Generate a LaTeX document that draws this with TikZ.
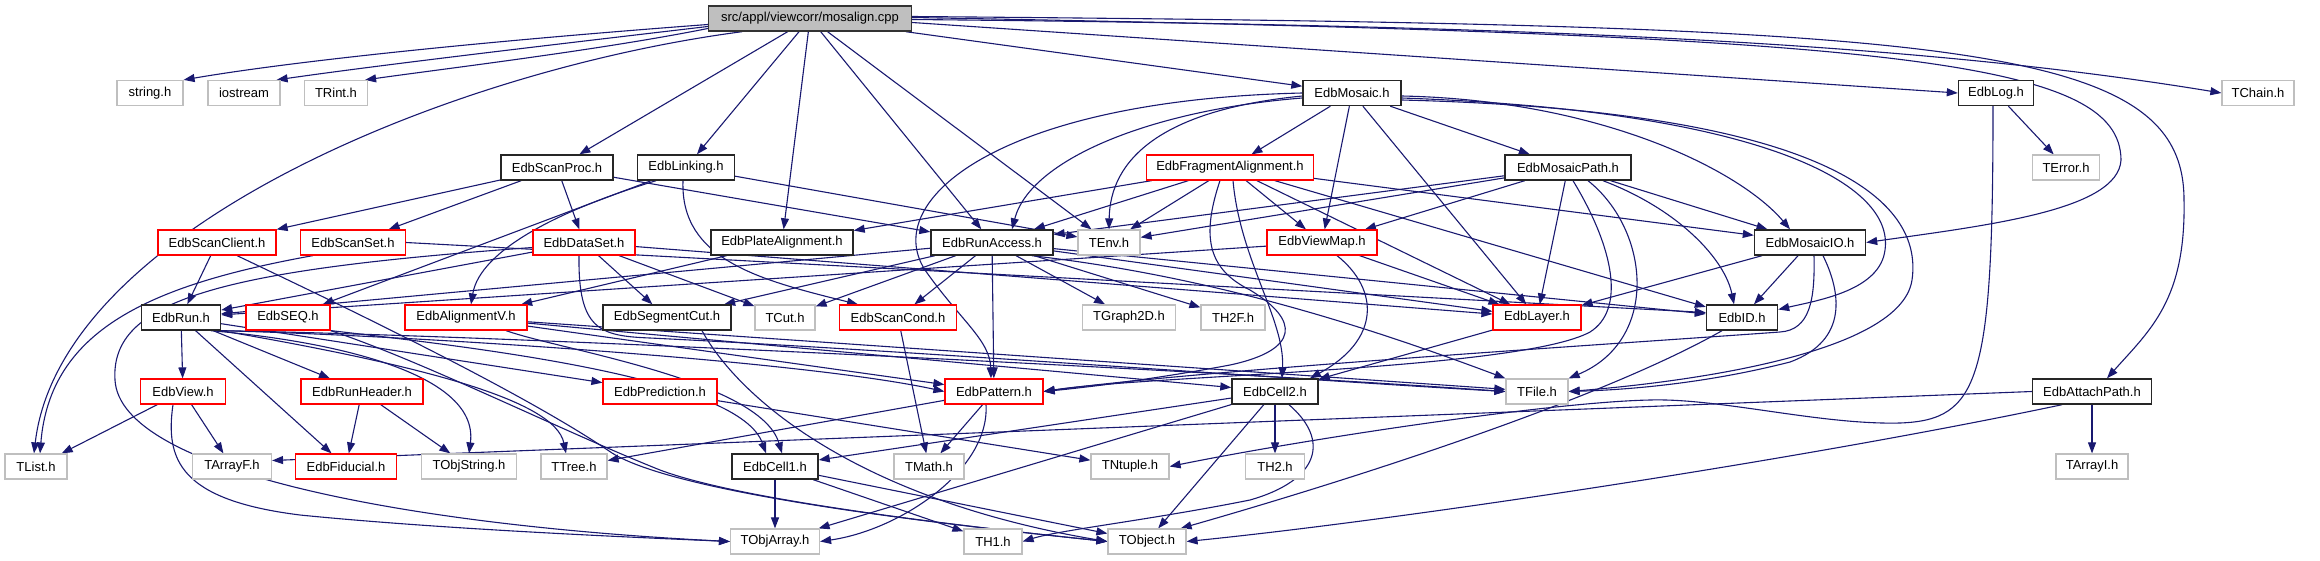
\documentclass[tikz,border=0pt]{standalone}
\usepackage{fontspec}
\setmainfont{Liberation Sans}
\usetikzlibrary{arrows.meta}
\pgfdeclarelayer{edges}
\pgfsetlayers{edges,main}
\definecolor{incblue}{HTML}{191970}
\definecolor{extgray}{HTML}{BFBFBF}
\definecolor{rootgray}{HTML}{BFBFBF}

\begin{document}
\begin{tikzpicture}[x=1pt, y=-1pt,
  every node/.style={font=\fontsize{13}{15}\selectfont, inner sep=0pt, minimum height=25pt},
  hdr/.style={draw=black!85, line width=1.4pt, fill=white},
  hdrred/.style={draw=red, line width=1.2pt, fill=white},
  hdrext/.style={draw=extgray, line width=1.2pt, fill=white},
  hdrroot/.style={draw=black!80, line width=1.4pt, fill=rootgray},
  inc/.style={draw=incblue, line width=1.1pt, -{Triangle[length=11pt,width=8pt]}}]
\useasboundingbox (0,0) rectangle (2320,560);

% row 1 and 2
\node[hdrroot, minimum width=203pt] (root) at (810,18.5) {src/appl/viewcorr/mosalign.cpp};
\node[hdrext, minimum width=66pt] (str) at (150,93) {string.h};
\node[hdrext, minimum width=72pt] (ios) at (244,93) {iostream};
\node[hdrext, minimum width=63pt] (trint) at (336,93) {TRint.h};
\node[hdr, minimum width=98pt] (mos) at (1352,93) {EdbMosaic.h};
\node[hdr, minimum width=75pt] (log) at (1996,93) {EdbLog.h};
\node[hdrext, minimum width=72pt] (tchain) at (2258,93) {TChain.h};
% row 3
\node[hdr, minimum width=112pt] (sproc) at (557,167.5) {EdbScanProc.h};
\node[hdr, minimum width=97pt] (link) at (686,167.5) {EdbLinking.h};
\node[hdrred, minimum width=167pt] (frag) at (1230,167.5) {EdbFragmentAlignment.h};
\node[hdr, minimum width=126pt] (mpath) at (1568,167.5) {EdbMosaicPath.h};
\node[hdrext, minimum width=67pt] (terr) at (2066,167.5) {TError.h};
% row 4
\node[hdrred, minimum width=118pt] (sclient) at (217,242.5) {EdbScanClient.h};
\node[hdrred, minimum width=105pt] (sset) at (353,242.5) {EdbScanSet.h};
\node[hdrred, minimum width=102pt] (dset) at (584,242.5) {EdbDataSet.h};
\node[hdr, minimum width=142pt] (palign) at (782,242.5) {EdbPlateAlignment.h};
\node[hdr, minimum width=122pt] (racc) at (992,242.5) {EdbRunAccess.h};
\node[hdrext, minimum width=62pt] (tenv) at (1109,242.5) {TEnv.h};
\node[hdrred, minimum width=110pt] (vmap) at (1322,242.5) {EdbViewMap.h};
\node[hdr, minimum width=111pt] (mio) at (1810,242.5) {EdbMosaicIO.h};
% row 5
\node[hdr, minimum width=79pt] (run) at (181,317.5) {EdbRun.h};
\node[hdrred, minimum width=84pt] (seq) at (288,317.5) {EdbSEQ.h};
\node[hdrred, minimum width=122pt] (alv) at (466,317.5) {EdbAlignmentV.h};
\node[hdr, minimum width=128pt] (scut) at (667,317.5) {EdbSegmentCut.h};
\node[hdrext, minimum width=60pt] (tcut) at (785,317.5) {TCut.h};
\node[hdrred, minimum width=117pt] (scond) at (898,317.5) {EdbScanCond.h};
\node[hdrext, minimum width=93pt] (tg2d) at (1129,317.5) {TGraph2D.h};
\node[hdrext, minimum width=64pt] (th2f) at (1233,317.5) {TH2F.h};
\node[hdrred, minimum width=88pt] (layer) at (1537,317.5) {EdbLayer.h};
\node[hdr, minimum width=71pt] (eid) at (1742,317.5) {EdbID.h};
% row 6
\node[hdrred, minimum width=85pt] (view) at (183,391.5) {EdbView.h};
\node[hdrred, minimum width=122pt] (rhead) at (362,391.5) {EdbRunHeader.h};
\node[hdrred, minimum width=114pt] (pred) at (660,391.5) {EdbPrediction.h};
\node[hdrred, minimum width=98pt] (patt) at (994,391.5) {EdbPattern.h};
\node[hdr, minimum width=86pt] (cell2) at (1275,391.5) {EdbCell2.h};
\node[hdrext, minimum width=62pt] (tfile) at (1537,391.5) {TFile.h};
\node[hdr, minimum width=119pt] (apath) at (2092,391.5) {EdbAttachPath.h};
% row 7
\node[hdrext, minimum width=62pt] (tlist) at (36,466.5) {TList.h};
\node[hdrext, minimum width=79pt] (tarrf) at (232,466.5) {TArrayF.h};
\node[hdrred, minimum width=101pt] (fid) at (346,466.5) {EdbFiducial.h};
\node[hdrext, minimum width=95pt] (tostr) at (469,466.5) {TObjString.h};
\node[hdrext, minimum width=66pt] (ttree) at (574,466.5) {TTree.h};
\node[hdr, minimum width=86pt] (cell1) at (775,466.5) {EdbCell1.h};
\node[hdrext, minimum width=70pt] (tmath) at (929,466.5) {TMath.h};
\node[hdrext, minimum width=78pt] (tntup) at (1130,466.5) {TNtuple.h};
\node[hdrext, minimum width=59pt] (th2) at (1275,466.5) {TH2.h};
\node[hdrext, minimum width=72pt] (tarri) at (2092,466.5) {TArrayI.h};
% row 8
\node[hdrext, minimum width=89pt] (toarr) at (775,541.5) {TObjArray.h};
\node[hdrext, minimum width=58pt] (th1) at (993,541.5) {TH1.h};
\node[hdrext, minimum width=78pt] (tobj) at (1147,541.5) {TObject.h};

\begin{pgfonlayer}{edges}
% from the source file
\draw[inc] ([yshift=-6pt]root.west) .. controls (500,40) and (300,60) .. (str.north east);
\draw[inc] ([yshift=-8pt]root.west) .. controls (550,45) and (380,65) .. ([xshift=-4pt]ios.north east);
\draw[inc] ([yshift=-10pt]root.west) .. controls (600,50) and (450,68) .. ([xshift=-3pt]trint.north east);
\draw[inc] ([xshift=-68pt]root.south) .. controls (450,70) and (60,230) .. ([xshift=-2pt]tlist.north);
\draw[inc] (root) -- (sproc);
\draw[inc] (root) -- (link);
\draw[inc] (root) -- (palign);
\draw[inc] (root) -- (racc);
\draw[inc] (root) -- (tenv);
\draw[inc] (root) -- (mos);
\draw[inc] ([yshift=-4pt]root.east) -- (log.west);
\draw[inc] ([yshift=-1pt]root.east) .. controls (1500,25) and (1900,40) .. (tchain.west);
\draw[inc] ([yshift=1pt]root.east) .. controls (1900,35) and (2120,60) .. (2121,160) .. controls (2118,210) and (1990,225) .. (mio.east);
\draw[inc] ([yshift=2pt]root.east) .. controls (1950,25) and (2184,40) .. (2184,200) .. controls (2186,300) and (2150,330) .. ([xshift=15pt]apath.north);
% EdbMosaic.h
\draw[inc] (mos) -- (frag);
\draw[inc] (mos) -- (mpath);
\draw[inc] (mos) -- (vmap);
\draw[inc] (mos) -- (layer);
\draw[inc] ([yshift=-5pt]mos.west) .. controls (1150,110) and (1030,160) .. ([xshift=20pt]racc.north);
\draw[inc] ([yshift=-3pt]mos.west) .. controls (1160,110) and (1110,160) .. (tenv.north);
\draw[inc] (mos.west) .. controls (1000,100) and (880,200) .. (925,270) .. controls (960,320) and (990,340) .. ([xshift=-3pt]patt.north);
\draw[inc] ([yshift=-3pt]mos.east) .. controls (1600,100) and (1740,170) .. ([xshift=-20pt]mio.north);
\draw[inc] ([yshift=-5pt]mos.east) .. controls (1750,110) and (1895,180) .. (1885,250) .. controls (1880,290) and (1820,300) .. ([yshift=8pt]eid.east);
\draw[inc] ([yshift=-7pt]mos.east) .. controls (1800,110) and (1925,190) .. (1912,280) .. controls (1900,360) and (1650,385) .. (tfile.east);
% EdbLog.h
\draw[inc] (log) -- (terr);
\draw[inc] ([xshift=-3pt]log.south) .. controls (1993,380) and (1980,420) .. (1900,423) .. controls (1820,425) and (1720,398) .. (1650,400) .. controls (1550,402) and (1300,440) .. (tntup.east);
% EdbAttachPath.h
\draw[inc] (apath) -- (tarri);
\draw[inc] (apath.west) -- ([yshift=6pt]tarrf.east);
\draw[inc] ([xshift=-30pt]apath.south) .. controls (1800,460) and (1400,520) .. (tobj.east);
% EdbScanProc.h, EdbLinking.h
\draw[inc] (sproc) -- (sclient);
\draw[inc] (sproc) -- (sset);
\draw[inc] (sproc) -- (dset);
\draw[inc] (sproc) -- (racc);
\draw[inc] (link) -- (seq);
\draw[inc] ([xshift=-30pt]link.south) .. controls (560,210) and (480,250) .. ([xshift=5pt]alv.north);
\draw[inc] ([xshift=-3pt]link.south) .. controls (680,260) and (760,280) .. ([xshift=-40pt]scond.north);
\draw[inc] (link) -- (tenv);
% EdbScanClient.h, EdbScanSet.h, EdbDataSet.h
\draw[inc] (sclient) -- (run);
\draw[inc] ([xshift=20pt]sclient.south) .. controls (330,300) and (520,390) .. (612,453) .. controls (680,495) and (950,525) .. (tobj.west);
\draw[inc] ([xshift=-40pt]sset.south) .. controls (150,285) and (50,330) .. ([xshift=4pt]tlist.north);
\draw[inc] (sset.east) -- ([yshift=5pt]eid.west);
\draw[inc] (dset) -- (run);
\draw[inc] ([yshift=-5pt]dset.west) .. controls (220,270) and (110,300) .. (115,380) .. controls (120,470) and (400,525) .. (toarr.west);
\draw[inc] (dset) -- (scut);
\draw[inc] (dset) -- (tcut);
\draw[inc] ([xshift=-5pt]dset.south) .. controls (578,330) and (600,336) .. (650,338) .. controls (900,350) and (1300,380) .. (tfile.west);
\draw[inc] (dset) -- (layer);
\draw[inc] (palign) -- (alv);
% EdbRunAccess.h
\draw[inc] (racc) -- (run);
\draw[inc] (racc) -- (scut);
\draw[inc] (racc) -- (tcut);
\draw[inc] (racc) -- (scond);
\draw[inc] (racc) -- (patt);
\draw[inc] (racc) -- (tg2d);
\draw[inc] (racc) -- (th2f);
\draw[inc] (racc) -- (layer);
\draw[inc] (racc) -- (eid);
\draw[inc] ([xshift=40pt]racc.south) .. controls (1200,275) and (1350,320) .. (tfile.north west);
% EdbViewMap.h
\draw[inc] (vmap) -- (run);
\draw[inc] ([xshift=15pt]vmap.south) .. controls (1380,290) and (1380,340) .. ([xshift=35pt]cell2.north);
\draw[inc] (vmap) -- (layer);
% EdbFragmentAlignment.h
\draw[inc] (frag) -- (palign);
\draw[inc] (frag) -- (racc);
\draw[inc] (frag) -- (tenv);
\draw[inc] (frag) -- (vmap);
\draw[inc] ([xshift=-10pt]frag.south) .. controls (1200,240) and (1210,270) .. (1250,290) .. controls (1300,320) and (1300,350) .. (1230,365) .. controls (1150,380) and (1080,388) .. (patt.east);
\draw[inc] ([xshift=3pt]frag.south) .. controls (1240,260) and (1285,320) .. ([xshift=7pt]cell2.north);
\draw[inc] (frag) -- (layer);
\draw[inc] (frag) -- (eid);
\draw[inc] (frag) -- (mio);
% EdbMosaicPath.h
\draw[inc] (mpath) -- (tenv);
\draw[inc] (mpath) -- (racc);
\draw[inc] (mpath) -- (vmap);
\draw[inc] (mpath) -- (layer);
\draw[inc] (mpath) -- (mio);
\draw[inc] ([xshift=5pt]mpath.south) .. controls (1615,250) and (1625,310) .. (1590,332) .. controls (1520,370) and (1150,375) .. (patt.east);
\draw[inc] ([xshift=20pt]mpath.south) .. controls (1650,230) and (1660,340) .. (tfile.north east);
\draw[inc] ([xshift=35pt]mpath.south) .. controls (1680,210) and (1725,260) .. ([xshift=-8pt]eid.north);
% EdbMosaicIO.h
\draw[inc] (mio) -- (layer);
\draw[inc] (mio) -- (eid);
\draw[inc] ([xshift=4pt]mio.south) .. controls (1815,300) and (1810,330) .. (1780,332) .. controls (1600,345) and (1200,370) .. (patt.east);
\draw[inc] ([xshift=13pt]mio.south) .. controls (1840,290) and (1850,340) .. (1790,362) .. controls (1700,385) and (1620,390) .. (tfile.east);
% EdbLayer.h, EdbID.h, EdbCell2.h
\draw[inc] (layer) -- (cell2);
\draw[inc] ([xshift=-20pt]eid.south) .. controls (1600,400) and (1350,480) .. ([xshift=-6pt]tobj.north east);
\draw[inc] (cell2) -- (cell1);
\draw[inc] (cell2) -- (toarr);
\draw[inc] (cell2) -- (tobj);
\draw[inc] (cell2) -- (th2);
\draw[inc] ([xshift=14pt]cell2.south) .. controls (1330,440) and (1320,480) .. (1250,500) .. controls (1150,520) and (1060,530) .. (th1.east);
% EdbPattern.h, EdbScanCond.h, EdbSegmentCut.h
\draw[inc] (patt) -- (tmath);
\draw[inc] ([xshift=-8pt]patt.south) .. controls (990,470) and (900,530) .. (toarr.east);
\draw[inc] (patt) -- (ttree);
\draw[inc] (scond) -- (tmath);
\draw[inc] ([xshift=35pt]scut.south) .. controls (740,400) and (860,500) .. (tobj.west);
% EdbAlignmentV.h, EdbSEQ.h
\draw[inc] (alv) -- (patt);
\draw[inc] (alv) -- (cell2);
\draw[inc] ([xshift=40pt]alv.south) .. controls (560,350) and (760,380) .. ([xshift=7pt]cell1.north);
\draw[inc] (alv) -- (tfile);
\draw[inc] (seq.south east) .. controls (500,350) and (740,380) .. ([xshift=-9pt]cell1.north);
\draw[inc] (seq.south east) .. controls (420,360) and (560,430) .. (660,470) .. controls (740,500) and (950,525) .. (tobj.west);
% EdbRun.h
\draw[inc] (run) -- (view);
\draw[inc] (run) -- (fid);
\draw[inc] (run) -- (rhead);
\draw[inc] (run) -- (pred);
\draw[inc] ([xshift=30pt]run.south) .. controls (320,340) and (480,370) .. (tostr.north);
\draw[inc] (run.south east) .. controls (420,365) and (555,400) .. ([xshift=-8pt]ttree.north);
\draw[inc] (run.south east) .. controls (400,335) and (800,360) .. (patt.west);
\draw[inc] (run.south east) .. controls (500,335) and (1200,370) .. (tfile.west);
% EdbView.h, EdbRunHeader.h, EdbPrediction.h, EdbCell1.h
\draw[inc] (view) -- (tlist);
\draw[inc] (view) -- (tarrf);
\draw[inc] ([xshift=-10pt]view.south) .. controls (165,460) and (180,500) .. (300,515) .. controls (450,530) and (650,538) .. (toarr.west);
\draw[inc] (rhead) -- (fid);
\draw[inc] (rhead) -- (tostr);
\draw[inc] (pred) -- (tntup);
\draw[inc] (cell1) -- (toarr);
\draw[inc] (cell1) -- (th1);
\draw[inc] (cell1) -- (tobj);
\end{pgfonlayer}
\end{tikzpicture}
\end{document}
